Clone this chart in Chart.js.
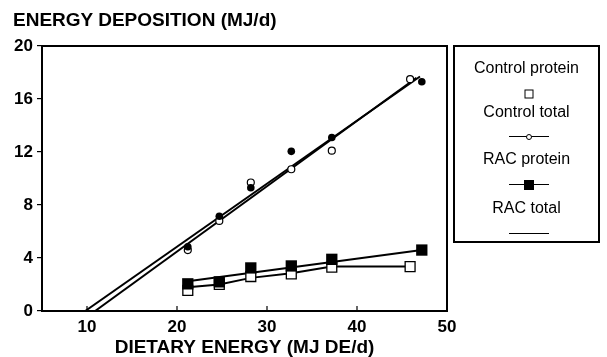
<!DOCTYPE html>
<html><head><meta charset="utf-8">
<script src="https://cdn.jsdelivr.net/npm/chart.js@4.4.1/dist/chart.umd.min.js"></script>
<style>
html,body{margin:0;padding:0;background:#fff;}
#wrap{position:relative;width:607px;height:357px;overflow:hidden;font-family:"Liberation Sans",Arial,sans-serif;color:#000;}
#c{position:absolute;left:0;top:0;}
#ytitle{position:absolute;left:13px;top:9px;font-weight:bold;font-size:19px;line-height:21px;white-space:nowrap;}
#legend{position:absolute;left:453px;top:45px;width:147px;height:198px;border:2px solid #000;box-sizing:border-box;}
.lt{position:absolute;left:0;width:100%;text-align:center;font-size:16px;line-height:18px;white-space:nowrap;}
.ls{position:absolute;left:50%;width:40px;margin-left:-18px;height:0;}
.ls .ln{position:absolute;left:0;right:0;top:-1px;border-top:1.6px solid #000;}
.ls .mk{position:absolute;left:50%;top:50%;transform:translate(-50%,-50%);box-sizing:border-box;}
</style></head>
<body><div id="wrap">
<canvas id="c" width="607" height="357"></canvas>
<div id="ytitle">ENERGY DEPOSITION (MJ/d)</div>
<div id="legend"></div>
</div>
<script>
// ---- data ----
const yTitle = "ENERGY DEPOSITION (MJ/d)";
const xTitle = "DIETARY ENERGY (MJ DE/d)";
const seriesNames = ["Control protein", "Control total", "RAC protein", "RAC total"];
const xTickValues = [10, 20, 30, 40, 50];
const yTickValues = [0, 4, 8, 12, 16, 20];

const controlEnergy = [21.2, 24.7, 28.2, 32.7, 37.2, 45.9];
const racEnergy     = [21.2, 24.7, 28.2, 32.7, 37.2, 47.2];

const controlProtein = [1.55, 2.0, 2.6, 2.8, 3.3, 3.35];
const controlTotal   = [4.6, 6.8, 9.7, 10.7, 12.1, 17.5];
const racProtein     = [2.05, 2.2, 3.25, 3.4, 3.9, 4.6];
const racTotal       = [4.85, 7.15, 9.3, 12.05, 13.1, 17.3];

// fitted lines as drawn in the figure
const controlProteinLine = [1.8, 2.0, 2.5, 2.85, 3.35, 3.35];
const racProteinLineX = [21.2, 47.2];
const racProteinLineY = [2.25, 4.6];
const controlTotalLineX = [10.9, 46.6];
const controlTotalLineY = [0, 17.6];
const racTotalLineX = [9.8, 47.0];
const racTotalLineY = [0, 17.7];

// ---- helpers ----
const pts = (xs, ys) => xs.map((x, i) => ({x: x, y: ys[i]}));
const FONT = "'Liberation Sans', Arial, sans-serif";

document.getElementById('ytitle').textContent = yTitle;

// legend
const legendSymbols = [
  {line:false, mk:'width:9px;height:9px;border:1.3px solid #000;background:#fff;'},
  {line:true,  mk:'width:6px;height:6px;border:1.3px solid #000;border-radius:50%;background:#fff;'},
  {line:true,  mk:'width:10px;height:10px;background:#000;'},
  {line:true,  mk:null}
];
const textTops = [12, 56, 103, 152];
const symTops = [47, 90, 138, 187];
const lg = document.getElementById('legend');
seriesNames.forEach((name, i) => {
  const t = document.createElement('div');
  t.className = 'lt'; t.style.top = textTops[i] + 'px'; t.textContent = name;
  lg.appendChild(t);
  const s = document.createElement('div');
  s.className = 'ls'; s.style.top = symTops[i] + 'px';
  let h = '';
  if (legendSymbols[i].line) h += '<div class="ln"></div>';
  if (legendSymbols[i].mk) h += '<div class="mk" style="' + legendSymbols[i].mk + '"></div>';
  s.innerHTML = h;
  lg.appendChild(s);
});

const framePlugin = {
  id: 'frame',
  afterDraw(chart) {
    const {ctx, chartArea: a, scales: {x}} = chart;
    ctx.save();
    ctx.strokeStyle = '#000';
    ctx.lineWidth = 2;
    ctx.strokeRect(a.left, a.top, a.right - a.left, a.bottom - a.top);
    ctx.lineWidth = 1.2;
    x.ticks.forEach(t => {
      const px = x.getPixelForValue(t.value);
      ctx.beginPath(); ctx.moveTo(px, a.bottom); ctx.lineTo(px, a.bottom - 5); ctx.stroke();
    });
    ctx.restore();
  }
};

const lineDs = (data) => ({data, showLine: true, borderColor: '#000', borderWidth: 2, pointRadius: 0, fill: false, tension: 0});

new Chart(document.getElementById('c'), {
  type: 'scatter',
  data: {
    datasets: [
      {label: seriesNames[2], data: pts(racEnergy, racProtein), pointStyle: 'rect', pointRadius: 8, backgroundColor: '#000', borderColor: '#000', borderWidth: 0},
      {label: seriesNames[0], data: pts(controlEnergy, controlProtein), pointStyle: 'rect', pointRadius: 7, backgroundColor: '#fff', borderColor: '#000', borderWidth: 1.3},
      {label: seriesNames[3], data: pts(racEnergy, racTotal), pointStyle: 'circle', pointRadius: 3.8, backgroundColor: '#000', borderColor: '#000', borderWidth: 0},
      {label: seriesNames[1], data: pts(controlEnergy, controlTotal), pointStyle: 'circle', pointRadius: 3.5, backgroundColor: '#fff', borderColor: '#000', borderWidth: 1.2},
      lineDs(pts(controlEnergy, controlProteinLine)),
      lineDs(pts(racProteinLineX, racProteinLineY)),
      lineDs(pts(controlTotalLineX, controlTotalLineY)),
      lineDs(pts(racTotalLineX, racTotalLineY))
    ]
  },
  options: {
    responsive: false,
    animation: false,
    devicePixelRatio: 1,
    layout: {padding: {top: 46, right: 160, left: 0, bottom: 0}},
    plugins: {legend: {display: false}, tooltip: {enabled: false}, title: {display: false}},
    scales: {
      x: {
        type: 'linear', min: 5, max: 50,
        afterBuildTicks: s => { s.ticks = xTickValues.map(v => ({value: v})); },
        afterFit: s => { s.height = 46; },
        grid: {display: true, drawOnChartArea: false, drawTicks: false},
        border: {display: true, color: '#000', width: 2},
        ticks: {color: '#000', padding: 6, font: {family: FONT, size: 17, weight: 'bold'}, maxRotation: 0},
        title: {display: true, text: xTitle, color: '#000', padding: {top: 0, bottom: 0}, font: {family: FONT, size: 19, weight: 'bold', lineHeight: 1}}
      },
      y: {
        type: 'linear', min: 0, max: 20,
        afterBuildTicks: s => { s.ticks = yTickValues.map(v => ({value: v})); },
        afterFit: s => { s.width = 42; },
        grid: {display: true, drawOnChartArea: false, drawTicks: true, tickLength: 5, color: '#000', lineWidth: 1.2},
        border: {display: true, color: '#000', width: 2},
        ticks: {color: '#000', padding: 4, font: {family: FONT, size: 17, weight: 'bold'}}
      }
    }
  },
  plugins: [framePlugin]
});
</script>
</body></html>
